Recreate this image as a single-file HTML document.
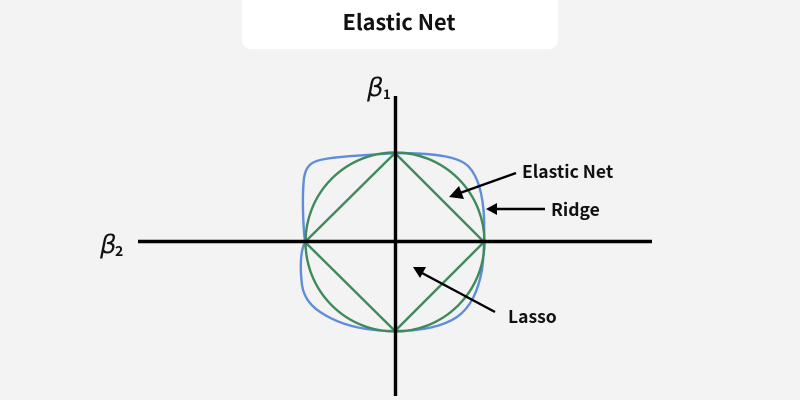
<!DOCTYPE html>
<html>
<head>
<meta charset="utf-8">
<style>
html,body{margin:0;padding:0;background:#f2f2f2;}
body{width:800px;height:400px;overflow:hidden;position:relative;}
svg{position:absolute;left:0;top:0;}
</style>
</head>
<body>
<svg width="800" height="400" viewBox="0 0 800 400" xmlns="http://www.w3.org/2000/svg">
<rect x="0" y="0" width="800" height="400" fill="#f3f3f3"/>
<rect x="242" y="-12" width="316" height="61" rx="9" fill="#ffffff"/>
<text x="399" y="30" text-anchor="middle" font-family="'Noto Sans CJK JP','Liberation Sans',sans-serif" font-weight="700" font-size="21.700" fill="#111">Elastic Net</text>

<path d="M395 153 C370 155 340 156 325 159 C312 161 306 165 304 178 C302 195 303 225 305 242 C300 252 300 268 302 285 C304 298 311 307 325 315 C345 327 370 331 395 331 C420 331 442 327 457 317 C471 307 478 291 482 270 C484 255 484.500 235 484 217 C483 198 479 178 469 167 C460 157 437 153 395 153 Z" fill="none" stroke="#5f8dd8" stroke-width="2.400"/>

<circle cx="395" cy="242" r="89.500" fill="none" stroke="#3f8a5c" stroke-width="2.400"/>
<path d="M395 153 L484 242 L395 331 L305 242 Z" fill="none" stroke="#3f8a5c" stroke-width="2.400" stroke-linejoin="round"/>

<path d="M138 241.500 H652" stroke="#000" stroke-width="3.400" fill="none"/>
<path d="M395.500 96 V396" stroke="#000" stroke-width="3.400" fill="none"/>

<path d="M516 173 L460 193" stroke="#000" stroke-width="2.400" fill="none"/>
<path d="M449 197 L459 186 L464 199 Z" fill="#000"/>
<path d="M545 209 L495 209" stroke="#000" stroke-width="2.400" fill="none"/>
<path d="M486 209 L497 203 L497 215 Z" fill="#000"/>
<path d="M495 312 L422 273" stroke="#000" stroke-width="2.400" fill="none"/>
<path d="M413 267 L426 267 L420 278 Z" fill="#000"/>

<g font-family="'Noto Sans CJK JP','Liberation Sans',sans-serif" font-weight="700" font-size="17.500" fill="#111">
<text x="522" y="178">Elastic Net</text>
<text x="551" y="216">Ridge</text>
<text x="508" y="323">Lasso</text>
</g>

<g font-family="'DejaVu Sans','Liberation Sans',sans-serif" fill="#111">
<text x="367" y="96" font-size="26" font-style="italic">β</text>
<text x="383" y="99" font-size="13" font-weight="700" font-family="'Noto Sans CJK JP',sans-serif">1</text>
<text x="100" y="253" font-size="26" font-style="italic">β</text>
<text x="115" y="256" font-size="14" font-weight="700" font-family="'Noto Sans CJK JP',sans-serif">2</text>
</g>
</svg>
</body>
</html>
